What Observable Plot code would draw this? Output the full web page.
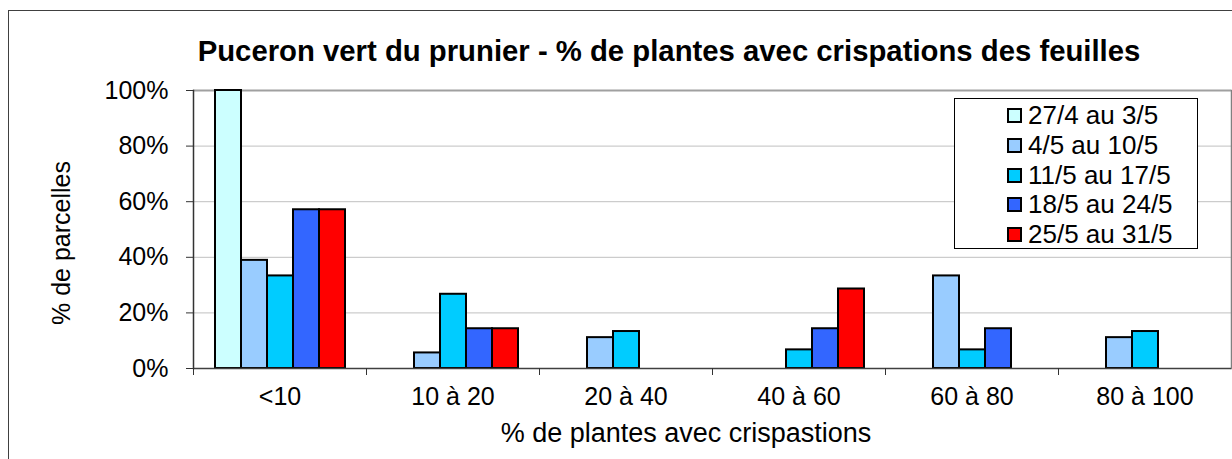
<!DOCTYPE html>
<html>
<head>
<meta charset="utf-8">
<script src="https://cdn.jsdelivr.net/npm/d3@7"></script>
<script src="https://cdn.jsdelivr.net/npm/@observablehq/plot@0.6"></script>
<style>
  html, body { margin: 0; padding: 0; background: white; }
  body { font-family: "Liberation Sans", Arial, sans-serif; }
  #wrap { position: relative; width: 1232px; height: 459px; overflow: hidden; }
  #frame { position: absolute; left: 8px; top: 10px; width: 1300px; height: 500px;
           border-left: 1.5px solid #404040; border-top: 1.5px solid #404040; }
  .ctr { position: absolute; transform: translate(-50%, -50%); white-space: nowrap; line-height: 1; color: black; }
  #title { font-weight: bold; font-size: 29.3px; left: 669px; top: 51px; }
  #xtitle { font-size: 27px; left: 686px; top: 433px; }
  #ytitle { font-size: 25px; left: 61px; top: 243px; transform: translate(-50%, -50%) rotate(-90deg); }
  #legend { position: absolute; left: 954px; top: 98px; width: 244px; height: 151px;
            border: 1px solid #000; background: white; box-sizing: border-box; padding-top: 2px; }
  .item { height: 29.7px; display: flex; align-items: center; font-size: 26px; padding-left: 52px; }
  .sw { width: 11px; height: 11px; border: 2px solid #000; margin-right: 6px; flex: none; }
  #chart { position: absolute; left: 0; top: 0; }
</style>
</head>
<body>
<div id="wrap">
  <div id="chart"></div>
  <div id="frame"></div>
  <div id="title" class="ctr"></div>
  <div id="ytitle" class="ctr"></div>
  <div id="xtitle" class="ctr"></div>
  <div id="legend"></div>
</div>
<script>
const titleText = "Puceron vert du prunier - % de plantes avec crispations des feuilles";
const xTitle = "% de plantes avec crispastions";
const yTitle = "% de parcelles";
const categories = ["<10", "10 à 20", "20 à 40", "40 à 60", "60 à 80", "80 à 100"];
const series = ["27/4 au 3/5", "4/5 au 10/5", "11/5 au 17/5", "18/5 au 24/5", "25/5 au 31/5"];
const colors = ["#CCFFFF", "#99CCFF", "#00CCFF", "#3366FF", "#FF0000"];
const s1 = [100, 0, 0, 0, 0, 0];
const s2 = [38.9, 5.6, 11.1, 0, 33.3, 11.1];
const s3 = [33.3, 26.7, 13.3, 6.7, 6.7, 13.3];
const s4 = [57.1, 14.3, 0, 14.3, 14.3, 0];
const s5 = [57.1, 14.3, 0, 28.6, 0, 0];
const yTicks = [0, 20, 40, 60, 80, 100];

const values = [s1, s2, s3, s4, s5];
const data = [];
series.forEach((s, j) => categories.forEach((c, i) => data.push({category: c, series: s, value: values[j][i]})));

document.getElementById("title").textContent = titleText;
document.getElementById("xtitle").textContent = xTitle;
document.getElementById("ytitle").textContent = yTitle;
const legend = document.getElementById("legend");
series.forEach((s, j) => {
  const it = document.createElement("div"); it.className = "item";
  const sw = document.createElement("div"); sw.className = "sw"; sw.style.background = colors[j];
  const t = document.createElement("span"); t.textContent = s;
  it.appendChild(sw); it.appendChild(t); legend.appendChild(it);
});

const W = 1232, H = 459, mL = 193, mR = 1, mT = 90, mB = 91;
const bandW = (W - mL - mR) / categories.length;

const chart = Plot.plot({
  width: W, height: H,
  marginLeft: mL, marginRight: mR, marginTop: mT, marginBottom: mB,
  style: {fontFamily: "Liberation Sans, Arial, sans-serif", background: "transparent", color: "black"},
  fx: {domain: categories, padding: 0},
  x: {domain: series, paddingInner: 0, paddingOuter: 0.72, axis: null},
  y: {domain: [0, 100]},
  color: {domain: series, range: colors},
  marks: [
    Plot.gridY(yTicks.filter(d => d > 0 && d < 100), {stroke: "#c0c0c0", strokeOpacity: 1, strokeWidth: 1}),
    Plot.ruleY([100], {stroke: "#a0a0a0", strokeWidth: 2}),
    Plot.frame({anchor: "right", facetAnchor: "right", stroke: "#808080", strokeWidth: 1.5}),
    Plot.barY(data.filter(d => d.value > 0), {fx: "category", x: "series", y: "value", fill: "series", stroke: "black", strokeWidth: 2}),
    Plot.ruleY([0], {stroke: "#404040", strokeWidth: 1.5}),
    Plot.frame({anchor: "left", facetAnchor: "left", stroke: "#333", strokeWidth: 1.5}),
    Plot.axisY({ticks: yTicks, tickSize: 7, tickPadding: 18, fontSize: 25, tickFormat: d => d + "%", label: null, stroke: "#333"}),
    Plot.axisFx({anchor: "bottom", tickSize: 7, tickFormat: () => "", dx: -bandW / 2, label: null, stroke: "#333"}),
    Plot.axisFx({anchor: "bottom", tickSize: 0, tickPadding: 19, fontSize: 25, label: null})
  ]
});
document.getElementById("chart").appendChild(chart);
</script>
</body>
</html>
